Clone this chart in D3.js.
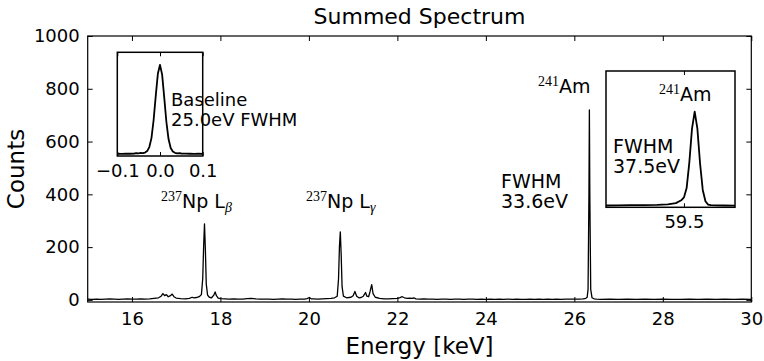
<!DOCTYPE html>
<html lang="en">
<head>
  <meta charset="UTF-8">
  <title>Summed Spectrum</title>
  <script src="https://d3js.org/d3.v7.min.js"></script>
  <style>
    body {
      margin: 0;
      padding: 0;
      background: #fff;
    }

    svg text {
      font-family: "DejaVu Sans", sans-serif;
      fill: #000;
    }

    .sup {
      font-family: "Liberation Serif", "DejaVu Serif", serif;
    }
  </style>
</head>
<body>
  <svg id="chart"></svg>
  <script>
    // main spectrum (keV, counts)
    const specEnergy = [
      15.00, 15.10, 15.20, 15.30, 15.40, 15.50, 15.60, 15.70, 15.80, 15.90,
      16.00, 16.10, 16.20, 16.30, 16.40, 16.50, 16.60, 16.66, 16.70, 16.74,
      16.78, 16.82, 16.87, 16.91, 16.95, 17.00, 17.10, 17.20, 17.30, 17.36,
      17.40, 17.46, 17.52, 17.57, 17.60, 17.62, 17.64, 17.66, 17.68, 17.71,
      17.75, 17.80, 17.85, 17.88, 17.91, 17.95, 18.00, 18.10, 18.20, 18.30,
      18.40, 18.50, 18.60, 18.70, 18.80, 18.90, 19.00, 19.10, 19.20, 19.30,
      19.40, 19.50, 19.60, 19.70, 19.80, 19.90, 19.96, 20.01, 20.05, 20.10,
      20.20, 20.30, 20.40, 20.50, 20.58, 20.64, 20.67, 20.69, 20.71, 20.73,
      20.75, 20.78, 20.85, 20.95, 21.00, 21.04, 21.08, 21.13, 21.18, 21.23,
      21.28, 21.31, 21.35, 21.38, 21.42, 21.45, 21.50, 21.60, 21.70, 21.80,
      21.90, 22.00, 22.06, 22.11, 22.16, 22.22, 22.28, 22.34, 22.37, 22.42,
      22.50, 22.60, 22.70, 22.80, 22.90, 23.00, 23.10, 23.20, 23.30, 23.40,
      23.50, 23.60, 23.70, 23.80, 23.90, 24.00, 24.10, 24.20, 24.30, 24.40,
      24.50, 24.60, 24.70, 24.80, 24.90, 25.00, 25.10, 25.20, 25.30, 25.40,
      25.50, 25.60, 25.70, 25.80, 25.90, 26.00, 26.10, 26.20, 26.26, 26.29,
      26.31, 26.33, 26.34, 26.35, 26.37, 26.40, 26.45, 26.50, 26.60, 26.80,
      27.00, 27.20, 27.40, 27.60, 27.80, 28.00, 28.20, 28.40, 28.60, 28.80,
      29.00, 29.20, 29.40, 29.60, 29.80, 30.00
    ];
    const specCounts = [
      3, 2, 3, 2, 3, 4, 3, 2, 3, 4,
      3, 3, 4, 3, 4, 6, 8, 14, 24, 16,
      20, 12, 16, 22, 12, 7, 5, 4, 6, 10,
      8, 9, 12, 20, 80, 200, 288, 190, 60, 18,
      10, 8, 18, 30, 16, 7, 5, 4, 3, 4,
      3, 3, 5, 6, 4, 3, 3, 3, 2, 3,
      4, 3, 3, 2, 3, 3, 5, 9, 4, 4,
      3, 4, 5, 6, 8, 14, 80, 200, 258, 170,
      50, 14, 8, 10, 16, 32, 14, 8, 9, 14,
      28, 14, 12, 30, 58, 24, 10, 6, 4, 4,
      5, 6, 9, 12, 8, 6, 7, 6, 8, 4,
      3, 4, 3, 3, 2, 3, 3, 2, 3, 3,
      2, 3, 3, 2, 3, 2, 3, 2, 3, 2,
      3, 2, 3, 2, 2, 3, 2, 3, 2, 3,
      2, 3, 2, 3, 3, 3, 3, 4, 6, 10,
      40, 400, 720, 400, 40, 8, 4, 3, 2, 3,
      2, 3, 2, 3, 2, 3, 2, 2, 3, 2,
      3, 2, 3, 2, 3, 2
    ];

    // baseline inset (keV offset, normalised counts)
    const baseOffset = [
      -0.100, -0.090, -0.080, -0.070, -0.060, -0.055, -0.050, -0.045, -0.040, -0.035,
      -0.030, -0.025, -0.020, -0.015, -0.010, -0.005, 0.000, 0.005, 0.010, 0.015,
      0.020, 0.025, 0.030, 0.035, 0.040, 0.045, 0.050, 0.060, 0.070, 0.080,
      0.090, 0.100
    ];
    const baseCounts = [
      0.005, 0.004, 0.006, 0.005, 0.008, 0.012, 0.010, 0.014, 0.012, 0.018,
      0.035, 0.080, 0.180, 0.380, 0.650, 0.900, 1.000, 0.890, 0.630, 0.360,
      0.170, 0.070, 0.030, 0.016, 0.010, 0.012, 0.008, 0.006, 0.005, 0.004,
      0.005, 0.004
    ];

    // Am-241 inset (keV, normalised counts)
    const amEnergy = [
      59.21, 59.25, 59.30, 59.35, 59.40, 59.44, 59.47, 59.49, 59.50, 59.51,
      59.52, 59.53, 59.54, 59.55, 59.56, 59.57, 59.58, 59.59, 59.60, 59.65,
      59.69
    ];
    const amCounts = [
      0.005, 0.006, 0.008, 0.010, 0.012, 0.018, 0.030, 0.060, 0.090, 0.190,
      0.460, 0.820, 1.000, 0.820, 0.450, 0.170, 0.050, 0.015, 0.008, 0.005,
      0.004
    ];

    const xTicks = [16, 18, 20, 22, 24, 26, 28, 30];
    const yTicks = [0, 200, 400, 600, 800, 1000];
    const baseTicks = [-0.1, 0.0, 0.1];
    const amTicks = [59.5];

    const width = 764;
    const height = 361;
    const margin = { top: 36, right: 12.7, bottom: 59, left: 87.7 };

    const svg = d3.select("#chart")
      .attr("width", width)
      .attr("height", height)
      .attr("viewBox", [0, 0, width, height]);

    svg.append("rect")
      .attr("width", width)
      .attr("height", height)
      .attr("fill", "#fff");

    const x = d3.scaleLinear()
      .domain([15, 30])
      .range([margin.left, width - margin.right]);

    const y = d3.scaleLinear()
      .domain([-8, 1000])
      .range([height - margin.bottom, margin.top]);

    function styleAxis(g, fontSize) {
      g.select(".domain").remove();
      g.selectAll(".tick line").attr("stroke", "#000").attr("stroke-width", 1);
      g.selectAll(".tick text")
        .attr("fill", "#000")
        .attr("font-size", fontSize)
        .attr("font-family", "DejaVu Sans");
    }

    // main axes, ticks pointing inward
    svg.append("g")
      .attr("transform", `translate(0,${y.range()[0]})`)
      .call(d3.axisBottom(x).tickValues(xTicks).tickSize(-5).tickPadding(10).tickFormat(d3.format("d")))
      .call(g => styleAxis(g, 18));

    svg.append("g")
      .attr("transform", `translate(0,${y.range()[1]})`)
      .call(d3.axisTop(x).tickValues(xTicks).tickSize(-5).tickFormat(""))
      .call(g => styleAxis(g, 18));

    svg.append("g")
      .attr("transform", `translate(${x.range()[0]},0)`)
      .call(d3.axisLeft(y).tickValues(yTicks).tickSize(-5).tickPadding(8).tickFormat(d3.format("d")))
      .call(g => styleAxis(g, 18));

    svg.append("g")
      .attr("transform", `translate(${x.range()[1]},0)`)
      .call(d3.axisRight(y).tickValues(yTicks).tickSize(-5).tickFormat(""))
      .call(g => styleAxis(g, 18));

    const line = d3.line()
      .x(d => x(d[0]))
      .y(d => y(d[1]));

    svg.append("path")
      .datum(d3.zip(specEnergy, specCounts))
      .attr("fill", "none")
      .attr("stroke", "#000")
      .attr("stroke-width", 1.3)
      .attr("stroke-linejoin", "round")
      .attr("d", line);

    svg.append("rect")
      .attr("x", x.range()[0])
      .attr("y", y.range()[1])
      .attr("width", x.range()[1] - x.range()[0])
      .attr("height", y.range()[0] - y.range()[1])
      .attr("fill", "none")
      .attr("stroke", "#000")
      .attr("stroke-width", 1.2);

    // title and axis labels
    svg.append("text")
      .attr("x", (x.range()[0] + x.range()[1]) / 2)
      .attr("y", 24)
      .attr("text-anchor", "middle")
      .attr("font-size", 22)
      .text("Summed Spectrum");

    svg.append("text")
      .attr("x", (x.range()[0] + x.range()[1]) / 2)
      .attr("y", 354)
      .attr("text-anchor", "middle")
      .attr("font-size", 23)
      .text("Energy [keV]");

    svg.append("text")
      .attr("transform", `translate(24,${(y.range()[0] + y.range()[1]) / 2}) rotate(-90)`)
      .attr("text-anchor", "middle")
      .attr("font-size", 23)
      .text("Counts");

    // peak labels
    function isotopeLabel(px, py, mass, body, sub, size) {
      const t = svg.append("text")
        .attr("x", px)
        .attr("y", py)
        .attr("font-size", size);
      t.append("tspan")
        .attr("class", "sup")
        .attr("font-size", 14)
        .attr("dy", -7)
        .text(mass);
      t.append("tspan")
        .attr("dy", 7)
        .text(body);
      if (sub) {
        t.append("tspan")
          .attr("class", "sup")
          .attr("font-style", "italic")
          .attr("font-size", 14)
          .attr("dy", 4)
          .text(sub);
      }
      return t;
    }

    isotopeLabel(161, 208, "237", "Np L", "\u03b2", 19);
    isotopeLabel(306, 208, "237", "Np L", "\u03b3", 19);
    isotopeLabel(538, 93, "241", "Am", null, 19);

    svg.append("text")
      .attr("x", 501)
      .attr("y", 188)
      .attr("font-size", 19)
      .text("FWHM");
    svg.append("text")
      .attr("x", 501)
      .attr("y", 208)
      .attr("font-size", 19)
      .text("33.6eV");

    // baseline inset
    const bx = d3.scaleLinear().domain([-0.1, 0.1]).range([117.3, 202.7]);
    const by = d3.scaleLinear().domain([-0.02, 1.14]).range([156, 52.3]);

    svg.append("g")
      .attr("transform", `translate(0,${by.range()[0]})`)
      .call(d3.axisBottom(bx).tickValues(baseTicks).tickSize(-4).tickPadding(8)
        .tickFormat(d => d3.format(".1f")(d).replace("-", "\u2212")))
      .call(g => styleAxis(g, 18));
    svg.append("g")
      .attr("transform", `translate(0,${by.range()[1]})`)
      .call(d3.axisTop(bx).tickValues(baseTicks).tickSize(-4).tickFormat(""))
      .call(g => styleAxis(g, 18));

    svg.append("path")
      .datum(d3.zip(baseOffset, baseCounts))
      .attr("fill", "none")
      .attr("stroke", "#000")
      .attr("stroke-width", 1.8)
      .attr("stroke-linejoin", "round")
      .attr("d", d3.line().x(d => bx(d[0])).y(d => by(d[1])));

    svg.append("rect")
      .attr("x", bx.range()[0])
      .attr("y", by.range()[1])
      .attr("width", bx.range()[1] - bx.range()[0])
      .attr("height", by.range()[0] - by.range()[1])
      .attr("fill", "none")
      .attr("stroke", "#000")
      .attr("stroke-width", 1.5);

    svg.append("text")
      .attr("x", 171)
      .attr("y", 106)
      .attr("font-size", 18)
      .text("Baseline");
    svg.append("text")
      .attr("x", 171)
      .attr("y", 126)
      .attr("font-size", 18)
      .text("25.0eV FWHM");

    // Am-241 inset
    const ax = d3.scaleLinear().domain([59.21, 59.69]).range([606, 735]);
    const ay = d3.scaleLinear().domain([-0.014, 1.43]).range([207.3, 71]);

    svg.append("g")
      .attr("transform", `translate(0,${ay.range()[0]})`)
      .call(d3.axisBottom(ax).tickValues(amTicks).tickSize(-4).tickPadding(8).tickFormat(d3.format(".1f")))
      .call(g => styleAxis(g, 18));
    svg.append("g")
      .attr("transform", `translate(0,${ay.range()[1]})`)
      .call(d3.axisTop(ax).tickValues(amTicks).tickSize(-4).tickFormat(""))
      .call(g => styleAxis(g, 18));

    svg.append("path")
      .datum(d3.zip(amEnergy, amCounts))
      .attr("fill", "none")
      .attr("stroke", "#000")
      .attr("stroke-width", 1.8)
      .attr("stroke-linejoin", "round")
      .attr("d", d3.line().x(d => ax(d[0])).y(d => ay(d[1])));

    svg.append("rect")
      .attr("x", ax.range()[0])
      .attr("y", ay.range()[1])
      .attr("width", ax.range()[1] - ax.range()[0])
      .attr("height", ay.range()[0] - ay.range()[1])
      .attr("fill", "none")
      .attr("stroke", "#000")
      .attr("stroke-width", 1.5);

    isotopeLabel(659, 101, "241", "Am", null, 19);

    svg.append("text")
      .attr("x", 613)
      .attr("y", 153)
      .attr("font-size", 19)
      .text("FWHM");
    svg.append("text")
      .attr("x", 613)
      .attr("y", 173)
      .attr("font-size", 19)
      .text("37.5eV");
  </script>
</body>
</html>
